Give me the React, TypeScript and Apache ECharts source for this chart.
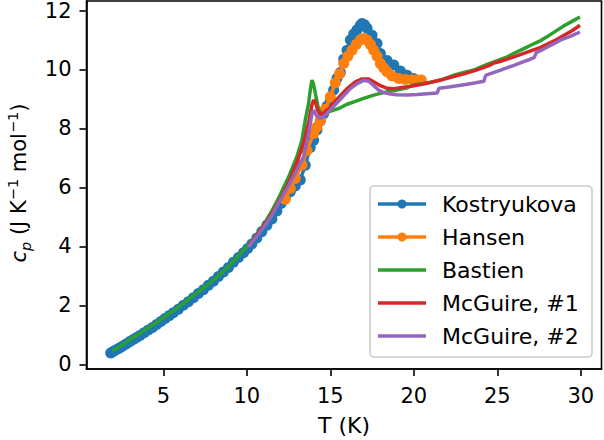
import React, { useEffect, useRef } from "react";
import * as echarts from "echarts";

const T_KOS = [1.85, 1.95, 2.1, 2.3, 2.45, 2.6, 2.8, 3.0, 3.2, 3.4, 3.6, 3.85, 4.1, 4.35, 4.6, 4.85, 5.1, 5.35, 5.6, 5.9, 6.2, 6.5, 6.8, 7.1, 7.4, 7.7, 8.0, 8.3, 8.6, 8.9, 9.2, 9.5, 9.8, 10.05, 10.3, 10.6, 10.9, 11.2, 11.5, 11.8, 12.05, 12.3, 12.6, 12.9, 13.2, 13.5, 13.8, 14.0, 14.2, 14.4, 14.6, 14.8, 15.0, 15.2, 15.4, 15.6, 15.8, 16.0, 16.2, 16.4, 16.6, 16.8, 16.9, 17.05, 17.2, 17.5, 17.8, 18.0, 18.4, 18.8, 19.2, 19.6, 19.97];
const CP_KOS = [0.38, 0.42, 0.47, 0.53, 0.58, 0.63, 0.7, 0.77, 0.84, 0.91, 0.98, 1.07, 1.16, 1.25, 1.35, 1.45, 1.55, 1.65, 1.75, 1.87, 2.0, 2.12, 2.26, 2.4, 2.53, 2.68, 2.82, 2.98, 3.13, 3.28, 3.46, 3.62, 3.78, 3.93, 4.08, 4.28, 4.5, 4.72, 4.93, 5.2, 5.45, 5.65, 5.85, 6.05, 6.25, 6.75, 7.35, 7.6, 7.95, 8.25, 8.5, 8.75, 8.96, 9.3, 9.7, 9.9, 10.35, 10.65, 11.0, 11.2, 11.35, 11.5, 11.56, 11.52, 11.4, 11.16, 10.88, 10.54, 10.3, 10.15, 9.95, 9.8, 9.69];

const T_HAN = [12.3, 12.6, 12.9, 13.3, 13.6, 14.0, 14.2, 14.4, 14.7, 15.0, 15.3, 15.55, 15.8, 16.05, 16.3, 16.55, 16.8, 17.0, 17.2, 17.4, 17.6, 17.8, 18.0, 18.2, 18.4, 18.7, 19.1, 19.5, 19.9, 20.2, 20.45];
const CP_HAN = [5.6, 5.97, 6.3, 6.76, 7.25, 7.83, 8.05, 8.28, 8.65, 9.07, 9.55, 9.85, 10.2, 10.45, 10.65, 10.85, 11.0, 11.05, 11.0, 10.85, 10.65, 10.45, 10.2, 10.05, 9.92, 9.78, 9.69, 9.66, 9.65, 9.64, 9.64];

const T_BAS = [1.95, 2.5, 3.0, 3.5, 4.0, 4.5, 5.0, 5.5, 6.0, 6.5, 7.0, 7.5, 8.0, 8.5, 9.0, 9.5, 10.0, 10.5, 11.0, 11.5, 12.0, 12.5, 13.0, 13.3, 13.5, 13.7, 13.8, 13.9, 14.0, 14.15, 14.3, 14.5, 14.8, 15.2, 15.6, 16.0, 16.5, 17.0, 17.6, 18.0, 18.5, 19.0, 19.6, 20.0, 20.5, 21.0, 21.6, 22.0, 22.5, 23.0, 23.6, 24.0, 24.5, 25.0, 25.6, 26.0, 26.5, 27.0, 27.6, 28.0, 28.5, 29.0, 29.5, 29.95];
const CP_BAS = [0.45, 0.65, 0.84, 1.02, 1.2, 1.38, 1.58, 1.78, 1.98, 2.2, 2.42, 2.63, 2.86, 3.1, 3.38, 3.68, 3.99, 4.33, 4.72, 5.2, 5.75, 6.35, 7.04, 7.6, 8.28, 8.85, 9.3, 9.64, 9.5, 9.05, 8.65, 8.48, 8.55, 8.62, 8.7, 8.82, 8.92, 9.02, 9.13, 9.19, 9.25, 9.3, 9.38, 9.48, 9.52, 9.57, 9.64, 9.72, 9.82, 9.9, 9.98, 10.08, 10.2, 10.3, 10.43, 10.55, 10.68, 10.82, 10.98, 11.12, 11.3, 11.48, 11.64, 11.78];

const T_MC1 = [10.1, 10.5, 11.0, 11.5, 12.0, 12.5, 13.0, 13.4, 13.7, 13.9, 14.0, 14.1, 14.25, 14.4, 14.6, 15.0, 15.5, 16.0, 16.5, 16.9, 17.3, 17.6, 18.0, 18.4, 18.8, 19.2, 19.6, 20.0, 20.5, 21.0, 21.6, 22.0, 22.5, 23.0, 23.6, 24.0, 24.5, 24.8, 25.2, 25.6, 26.0, 26.5, 27.0, 27.6, 28.0, 28.5, 29.0, 29.5, 29.95];
const CP_MC1 = [4.02, 4.3, 4.68, 5.1, 5.6, 6.15, 6.85, 7.5, 8.2, 8.8, 8.96, 8.9, 8.6, 8.48, 8.52, 8.72, 9.05, 9.35, 9.58, 9.68, 9.68, 9.58, 9.45, 9.36, 9.35, 9.38, 9.41, 9.45, 9.5, 9.56, 9.64, 9.7, 9.78, 9.85, 9.95, 10.03, 10.13, 10.22, 10.28, 10.35, 10.43, 10.53, 10.63, 10.75, 10.86, 11.0, 11.16, 11.32, 11.5];

const T_MC2 = [10.1, 10.5, 11.0, 11.5, 12.0, 12.5, 13.0, 13.4, 13.7, 13.9, 14.0, 14.15, 14.4, 14.7, 15.2, 15.7, 16.2, 16.6, 17.0, 17.3, 17.6, 17.9, 18.2, 18.6, 19.0, 19.6, 20.2, 20.8, 21.4, 21.5, 22.0, 22.6, 23.2, 23.8, 24.2, 24.3, 24.8, 25.2, 25.6, 26.0, 26.5, 26.9, 27.2, 27.35, 27.8, 28.3, 28.8, 29.4, 29.95];
const CP_MC2 = [3.98, 4.27, 4.63, 5.05, 5.57, 6.05, 6.6, 7.04, 7.8, 8.5, 8.62, 8.45, 8.33, 8.45, 8.75, 9.05, 9.35, 9.52, 9.63, 9.6, 9.45, 9.3, 9.22, 9.17, 9.14, 9.13, 9.15, 9.18, 9.2, 9.36, 9.4, 9.45, 9.5, 9.56, 9.6, 9.8, 9.9, 9.98, 10.06, 10.14, 10.25, 10.33, 10.4, 10.58, 10.7, 10.85, 11.0, 11.13, 11.27];

const X_TICKS = [5, 10, 15, 20, 25, 30];
const Y_TICKS = [0, 2, 4, 6, 8, 10, 12];

const SERIES_NAMES = ["Kostryukova", "Hansen", "Bastien", "McGuire, #1", "McGuire, #2"];
const COLORS = ["#1f77b4", "#ff7f0e", "#2ca02c", "#d62728", "#9467bd"];
const WITH_MARKERS = [true, true, false, false, false];

const FONT = "DejaVu Sans";

function pairs(xs: number[], ys: number[]) {
  return xs.map((x, i) => [x, ys[i]]);
}

export default function App() {
  const ref = useRef<HTMLDivElement>(null);
  useEffect(() => {
    if (!ref.current) return;
    const chart = echarts.init(ref.current, null, { renderer: "svg" });
    const datasets = [
      pairs(T_KOS, CP_KOS),
      pairs(T_HAN, CP_HAN),
      pairs(T_BAS, CP_BAS),
      pairs(T_MC1, CP_MC1),
      pairs(T_MC2, CP_MC2),
    ];

    // custom legend built from the series names/colours
    const lgX = 370, lgY = 186, lgW = 222, lgH = 171;
    const rowY0 = 204, rowStep = 33;
    const legendEls: any[] = [
      {
        type: "rect",
        shape: { x: lgX, y: lgY, width: lgW, height: lgH, r: 4 },
        style: { fill: "rgba(255,255,255,0.8)", stroke: "#cccccc", lineWidth: 1.6 },
        z: 50,
      },
    ];
    SERIES_NAMES.forEach((name, i) => {
      const cy = rowY0 + i * rowStep;
      legendEls.push({
        type: "line",
        shape: { x1: 378, y1: cy, x2: 426, y2: cy },
        style: { stroke: COLORS[i], lineWidth: 3.5 },
        z: 51,
      });
      if (WITH_MARKERS[i]) {
        legendEls.push({
          type: "circle",
          shape: { cx: 402, cy, r: 4.5 },
          style: { fill: COLORS[i] },
          z: 52,
        });
      }
      legendEls.push({
        type: "text",
        x: 442,
        y: cy,
        style: { text: name, fontSize: 22, fontFamily: FONT, fill: "#000", align: "left", verticalAlign: "middle" },
        z: 52,
      });
    });

    chart.setOption({
      animation: false,
      grid: {
        left: 86.5,
        right: 2.5,
        top: 1,
        bottom: 71,
        show: true,
        borderColor: "#000",
        borderWidth: 1.6,
        backgroundColor: "transparent",
      },
      xAxis: {
        type: "value",
        min: 0.4,
        max: 31.24,
        axisLine: { show: true, onZero: false, lineStyle: { color: "#000", width: 1.6 } },
        axisTick: { show: true, customValues: X_TICKS, length: 7, lineStyle: { color: "#000", width: 1.6 } },
        axisLabel: { customValues: X_TICKS, fontSize: 21, fontFamily: FONT, color: "#000", margin: 16 },
        splitLine: { show: false },
      },
      yAxis: {
        type: "value",
        min: -0.16,
        max: 12.32,
        axisLine: { show: true, onZero: false, lineStyle: { color: "#000", width: 1.6 } },
        axisTick: { show: true, customValues: Y_TICKS, length: 7, lineStyle: { color: "#000", width: 1.6 } },
        axisLabel: { customValues: Y_TICKS, fontSize: 21, fontFamily: FONT, color: "#000", margin: 15 },
        splitLine: { show: false },
      },
      graphic: [
        {
          type: "text",
          x: 344,
          y: 425,
          style: { text: "T (K)", fontSize: 22, fontFamily: FONT, fill: "#000", align: "center", verticalAlign: "middle" },
        },
        {
          type: "text",
          x: 19,
          y: 183,
          rotation: Math.PI / 2,
          style: {
            text: "{i|c}{sub|p}{n| (J K}{sup|−1}{n| mol}{sup|−1}{n|)}",
            fontSize: 21,
            fontFamily: FONT,
            fill: "#000",
            align: "center",
            verticalAlign: "middle",
            rich: {
              i: { fontSize: 21, fontFamily: FONT, fontStyle: "italic", lineHeight: 28, verticalAlign: "middle" },
              sub: { fontSize: 14.5, fontFamily: FONT, fontStyle: "italic", lineHeight: 28, verticalAlign: "bottom" },
              n: { fontSize: 21, fontFamily: FONT, lineHeight: 28, verticalAlign: "middle" },
              sup: { fontSize: 14.5, fontFamily: FONT, lineHeight: 28, verticalAlign: "top" },
            },
          },
        },
        ...legendEls,
      ],
      series: datasets.map((d, i) => ({
        name: SERIES_NAMES[i],
        type: "line",
        data: d,
        color: COLORS[i],
        lineStyle: { width: 3.5, color: COLORS[i] },
        itemStyle: { color: COLORS[i] },
        symbol: WITH_MARKERS[i] ? "circle" : "none",
        showSymbol: WITH_MARKERS[i],
        symbolSize: 11,
        showAllSymbol: true,
        z: 2 + i,
        clip: true,
      })),
    });
    return () => chart.dispose();
  }, []);
  return <div ref={ref} style={{ width: 604, height: 440, position: "absolute", left: 0, top: 0 }} />;
}
